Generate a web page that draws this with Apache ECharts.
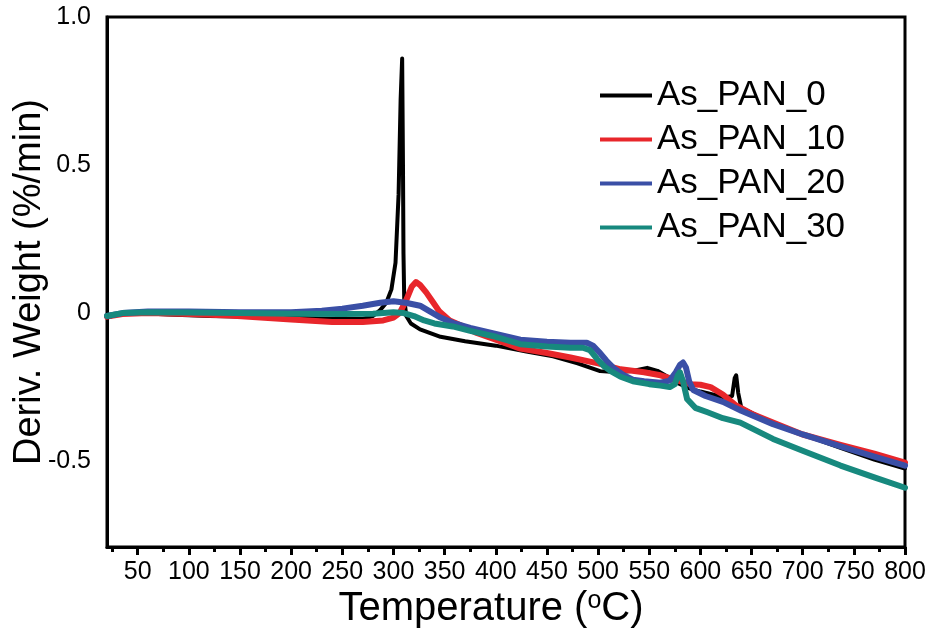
<!DOCTYPE html>
<html><head><meta charset="utf-8">
<script src="https://cdn.jsdelivr.net/npm/echarts@6/dist/echarts.min.js"></script>
<style>html,body{margin:0;padding:0;background:#fff}#c{width:926px;height:641px}</style>
</head><body><div id="c"></div>
<script>
const seriesNames = ['As_PAN_0', 'As_PAN_10', 'As_PAN_20', 'As_PAN_30'];

const tempPAN0  = [20, 30, 50, 80, 120, 160, 200, 240, 270, 280, 287, 293, 298, 302, 305, 307, 308.5, 309.3, 309.8, 310.5, 312.5, 317, 326, 346, 370, 400, 430, 456, 480, 502, 520, 535, 548, 558, 568, 577, 590, 600, 612, 624, 631, 633.5, 635, 637, 640, 655, 671, 700, 737, 770, 800];
const derivPAN0 = [-0.015, -0.005, 0.0, -0.005, -0.01, -0.012, -0.015, -0.02, -0.02, -0.01, 0.01, 0.035, 0.08, 0.17, 0.4, 0.72, 0.86, 0.5, 0.2, 0.05, -0.01, -0.035, -0.055, -0.08, -0.095, -0.11, -0.13, -0.146, -0.17, -0.196, -0.2, -0.195, -0.185, -0.195, -0.215, -0.235, -0.255, -0.265, -0.275, -0.285, -0.28, -0.22, -0.21, -0.27, -0.32, -0.345, -0.375, -0.41, -0.455, -0.495, -0.525];

const tempPAN10  = [20, 35, 60, 100, 140, 170, 200, 240, 270, 290, 300, 306, 312, 318, 322, 326, 332, 338, 345, 355, 365, 380, 400, 424, 450, 473, 500, 522, 545, 561, 575, 590, 600, 610, 622, 634, 650, 671, 700, 737, 770, 800];
const derivPAN10 = [-0.012, -0.003, 0.0, -0.003, -0.008, -0.015, -0.022, -0.03, -0.03, -0.025, -0.015, 0.0, 0.04, 0.09, 0.105, 0.095, 0.07, 0.04, 0.005, -0.025, -0.04, -0.065, -0.09, -0.12, -0.135, -0.15, -0.17, -0.19, -0.2, -0.21, -0.225, -0.24, -0.242, -0.25, -0.275, -0.31, -0.34, -0.37, -0.41, -0.445, -0.475, -0.505];

const tempPAN20  = [20, 35, 60, 100, 150, 200, 230, 250, 270, 287, 300, 312, 326, 336, 346, 358, 375, 400, 424, 450, 473, 489, 495, 502, 508, 515, 525, 534, 545, 561, 570, 576, 580, 583, 586, 589, 593, 605, 622, 640, 671, 700, 737, 770, 800];
const derivPAN20 = [-0.01, 0.0, 0.005, 0.005, 0.003, 0.003, 0.008, 0.015, 0.025, 0.035, 0.04, 0.035, 0.025, 0.005, -0.015, -0.033, -0.05, -0.07, -0.09, -0.097, -0.1, -0.1, -0.11, -0.135, -0.16, -0.185, -0.21, -0.225, -0.23, -0.235, -0.228, -0.2, -0.175, -0.167, -0.185, -0.23, -0.26, -0.28, -0.3, -0.33, -0.375, -0.41, -0.45, -0.485, -0.515];

const tempPAN30  = [20, 35, 60, 100, 150, 200, 250, 280, 300, 310, 320, 330, 340, 358, 375, 400, 424, 450, 473, 485, 492, 499, 506, 512, 522, 534, 550, 561, 570, 575, 578, 580, 583, 587, 595, 607, 622, 639, 671, 700, 737, 770, 800];
const derivPAN30 = [-0.01, 0.0, 0.003, 0.002, 0.0, -0.002, -0.003, -0.002, 0.003, 0.0, -0.01, -0.025, -0.035, -0.045, -0.06, -0.08, -0.105, -0.113, -0.117, -0.117, -0.125, -0.155, -0.18, -0.195, -0.215, -0.23, -0.24, -0.245, -0.25, -0.24, -0.21, -0.2, -0.23, -0.29, -0.32, -0.335, -0.355, -0.37, -0.425, -0.465, -0.515, -0.555, -0.59];

const xMajorTicks = [50, 100, 150, 200, 250, 300, 350, 400, 450, 500, 550, 600, 650, 700, 750, 800];
const xMinorTicks = [25, 75, 125, 175, 225, 275, 325, 375, 425, 475, 525, 575, 625, 675, 725, 775];
const yTickLabels = [-0.5, 0, 0.5, 1.0];

const colors = ['#000000', '#e8262b', '#3a4fa6', '#17897e'];
const widths = [4, 6, 6, 6];
const temps = [tempPAN0, tempPAN10, tempPAN20, tempPAN30];
const derivs = [derivPAN0, derivPAN10, derivPAN20, derivPAN30];

const font = "'Liberation Sans', Arial, Helvetica, sans-serif";

const chart = echarts.init(document.getElementById('c'), null, {renderer: 'canvas'});
chart.setOption({
  animation: false,
  backgroundColor: '#fff',
  grid: {left: 107, right: 21, top: 17, bottom: 94, show: true, borderColor: '#000', borderWidth: 3,
    containLabel: false, outerBoundsMode: 'none'},
  legend: {
    orient: 'vertical', left: 600, top: 78, padding: 0, itemGap: 9,
    itemWidth: 52, itemHeight: 4, icon: 'rect',
    textStyle: {fontFamily: font, fontSize: 35, color: '#000'},
    data: seriesNames
  },
  xAxis: [{
    type: 'value', min: 20, max: 800,
    name: 'Temperature ({sup|o}C)', nameLocation: 'middle', nameGap: 42, nameMoveOverlap: false,
    nameTextStyle: {fontFamily: font, fontSize: 40, color: '#000', padding: [0, 30, 0, 0],
      rich: {sup: {fontFamily: font, fontSize: 25, color: '#000', verticalAlign: 'top'}}},
    axisLine: {show: true, onZero: false, lineStyle: {color: '#000', width: 3}},
    axisTick: {show: true, length: 8, lineStyle: {color: '#000', width: 3}, customValues: xMajorTicks},
    axisLabel: {fontFamily: font, fontSize: 25, color: '#000', margin: 13, customValues: xMajorTicks},
    splitLine: {show: false}
  }, {
    type: 'value', min: 20, max: 800, position: 'bottom',
    axisLine: {show: false, onZero: false},
    axisTick: {show: true, length: 5, lineStyle: {color: '#000', width: 3}, customValues: xMinorTicks},
    axisLabel: {show: false},
    splitLine: {show: false}
  }],
  yAxis: {
    type: 'value', min: -0.79, max: 1.0,
    name: 'Deriv. Weight (%/min)', nameLocation: 'middle', nameGap: 58, nameMoveOverlap: false,
    nameTextStyle: {fontFamily: font, fontSize: 38, color: '#000'},
    axisLine: {show: true, onZero: false, lineStyle: {color: '#000', width: 3}},
    axisTick: {show: false},
    axisLabel: {fontFamily: font, fontSize: 25, color: '#000', margin: 16, customValues: yTickLabels,
      formatter: v => (Math.abs(v) < 1e-9 ? '0' : v.toFixed(1))},
    splitLine: {show: false}
  },
  series: seriesNames.map((n, i) => ({
    name: n, type: 'line', xAxisIndex: 0, showSymbol: false, symbol: 'none',
    smooth: false, z: 2 + i,
    lineStyle: {color: colors[i], width: widths[i], join: 'round', cap: 'round'},
    itemStyle: {color: colors[i]},
    data: temps[i].map((t, k) => [t, derivs[i][k]])
  }))
});
</script></body></html>
